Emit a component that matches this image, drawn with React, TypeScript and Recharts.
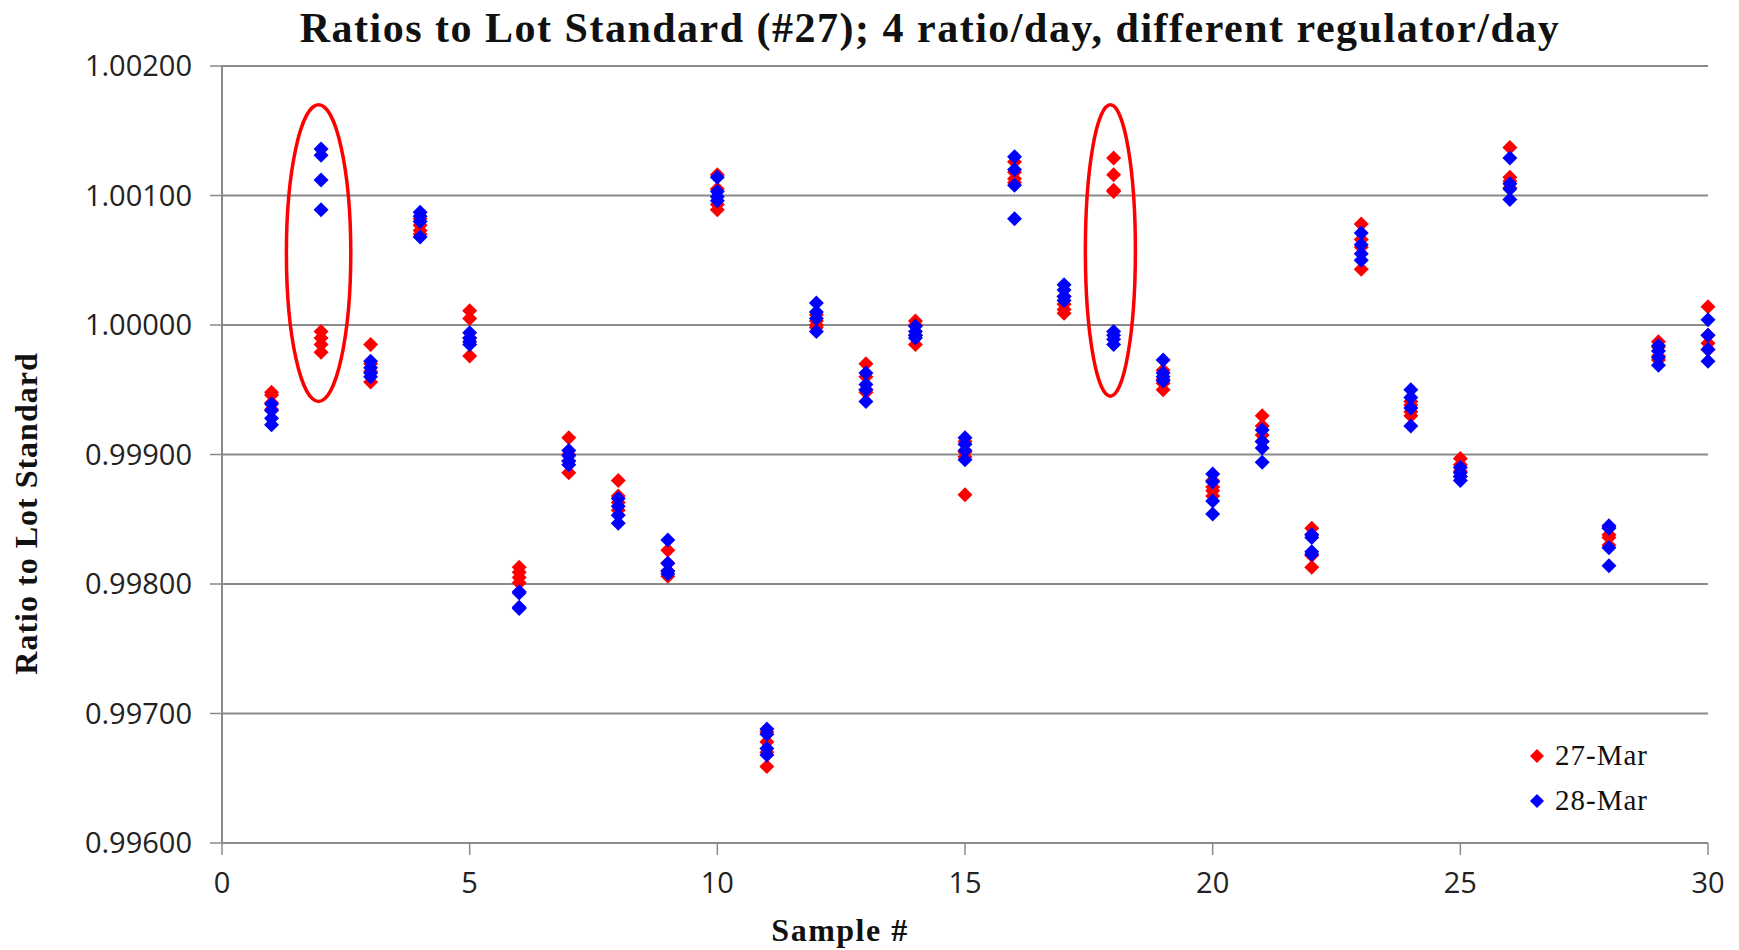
import React from 'react';
import {
  ScatterChart,
  Scatter,
  XAxis,
  YAxis,
  CartesianGrid,
  Legend,
  ReferenceArea,
} from 'recharts';

// sample numbers (no #27 in the run)
const sampleNo = [1, 2, 3, 4, 5, 6, 7, 8, 9, 10, 11, 12, 13, 14, 15, 16, 17, 18, 19, 20, 21, 22, 23, 24, 25, 26, 28, 29, 30];

// 4 ratios per sample
const mar27 = [
  [0.99948, 0.99946, 0.9994, 0.99935],
  [0.99995, 0.9999, 0.99985, 0.99979],
  [0.99985, 0.9997, 0.99964, 0.99956],
  [1.00082, 1.00077, 1.00073, 1.0007],
  [1.00011, 1.00005, 0.9999, 0.99976],
  [0.99813, 0.99809, 0.99805, 0.99801],
  [0.99913, 0.999, 0.99895, 0.99886],
  [0.9988, 0.99868, 0.99863, 0.99857],
  [0.99826, 0.99816, 0.9981, 0.99806],
  [1.00116, 1.00105, 1.00093, 1.00089],
  [0.99686, 0.99678, 0.9967, 0.99659],
  [1.00008, 1.00003, 1.0, 0.99998],
  [0.9997, 0.9996, 0.9995, 0.99948],
  [1.00003, 1.0, 0.99992, 0.99985],
  [0.9991, 0.99902, 0.99898, 0.99869],
  [1.00126, 1.00118, 1.00113, 1.0011],
  [1.00022, 1.00016, 1.00012, 1.00009],
  [1.00129, 1.00116, 1.00103, 1.00104],
  [0.99965, 0.99958, 0.99955, 0.9995],
  [0.9988, 0.99875, 0.99872, 0.99868],
  [0.9993, 0.99922, 0.99915, 0.9991],
  [0.99843, 0.99838, 0.99822, 0.99813],
  [1.00078, 1.00066, 1.0006, 1.00043],
  [0.99941, 0.99938, 0.99933, 0.9993],
  [0.99897, 0.99892, 0.99887, 0.99883],
  [1.00137, 1.00114, 1.00111, 1.00106],
  [0.99844, 0.99838, 0.99836, 0.9983],
  [0.99987, 0.99983, 0.99976, 0.99973],
  [1.00014, 0.99992, 0.99986, 0.99981],
];

const mar28 = [
  [0.99939, 0.99934, 0.99928, 0.99923],
  [1.00136, 1.00131, 1.00112, 1.00089],
  [0.99972, 0.99967, 0.99963, 0.9996],
  [1.00087, 1.00084, 1.0008, 1.00068],
  [0.99994, 0.9999, 0.99987, 0.99985],
  [0.99794, 0.99793, 0.99782, 0.99781],
  [0.99903, 0.99899, 0.99895, 0.99892],
  [0.99866, 0.9986, 0.99853, 0.99847],
  [0.99834, 0.99816, 0.9981, 0.99808],
  [1.00114, 1.00103, 1.00099, 1.00096],
  [0.99688, 0.99684, 0.99673, 0.99668],
  [1.00017, 1.0001, 1.00005, 0.99995],
  [0.99963, 0.99954, 0.9995, 0.99941],
  [0.99999, 0.99995, 0.99992, 0.9999],
  [0.99913, 0.99908, 0.99903, 0.99896],
  [1.0013, 1.0012, 1.00108, 1.00082],
  [1.00031, 1.00027, 1.00022, 1.00019],
  [0.99995, 0.99992, 0.99989, 0.99985],
  [0.99973, 0.99963, 0.9996, 0.99957],
  [0.99885, 0.99879, 0.99864, 0.99854],
  [0.99919, 0.9991, 0.99905, 0.99894],
  [0.99838, 0.99836, 0.99825, 0.99823],
  [1.00071, 1.00062, 1.00055, 1.0005],
  [0.9995, 0.99944, 0.99936, 0.99922],
  [0.9989, 0.99886, 0.99883, 0.9988],
  [1.00129, 1.00109, 1.00105, 1.00097],
  [0.99845, 0.99843, 0.99828, 0.99814],
  [0.99984, 0.9998, 0.99975, 0.99969],
  [1.00004, 0.99992, 0.99981, 0.99972],
];

const xTicks = [0, 5, 10, 15, 20, 25, 30];
const yTicks = [0.996, 0.997, 0.998, 0.999, 1.0, 1.001, 1.002];

// the two circled days (data units)
const circled = [
  { x1: 1.3, x2: 2.6, y1: 0.99941, y2: 1.0017 },
  { x1: 17.43, x2: 18.44, y1: 0.99945, y2: 1.0017 },
];

const toPoints = (rows: number[][]) =>
  rows.flatMap((vals, i) => vals.map((v) => ({ x: sampleNo[i], y: v })));

const serif = '"Liberation Serif", "DejaVu Serif", serif';
const sans = '"Open Sans", "Liberation Sans", sans-serif';
const gridColor = '#8a8a8a';

const Diamond = (props: any) => {
  const { cx, cy, fill } = props;
  if (cx == null || cy == null) return null;
  const h = 7.5;
  return (
    <polygon
      points={`${cx},${cy - h} ${cx + h},${cy} ${cx},${cy + h} ${cx - h},${cy}`}
      fill={fill}
    />
  );
};

const Ellipse = (props: any) => {
  const { x, y, width, height } = props;
  return (
    <ellipse
      cx={x + width / 2}
      cy={y + height / 2}
      rx={Math.abs(width) / 2}
      ry={Math.abs(height) / 2}
      fill="none"
      stroke="#ff0000"
      strokeWidth={3.5}
    />
  );
};

const YLabel = (props: any) => {
  const vb = props.viewBox || {};
  const cx = 26;
  const cy = (vb.y ?? 66) + (vb.height ?? 777) / 2 + 59;
  return (
    <text
      x={cx}
      y={cy}
      transform={`rotate(-90, ${cx}, ${cy})`}
      textAnchor="middle"
      dominantBaseline="central"
      fontFamily={serif}
      fontWeight="bold"
      fontSize={32}
      letterSpacing={1}
      fill="#111"
    >
      Ratio to Lot Standard
    </text>
  );
};

const XLabel = () => (
  <text
    x={840}
    y={930}
    textAnchor="middle"
    dominantBaseline="central"
    fontFamily={serif}
    fontWeight="bold"
    fontSize={32}
    letterSpacing={1.5}
    fill="#111"
  >
    Sample #
  </text>
);

const LegendBox = (props: any) => {
  const items = props.payload || [];
  return (
    <div style={{ fontFamily: serif, fontSize: 29, letterSpacing: 1, color: '#111', textAlign: 'left' }}>
      {items.map((it: any) => (
        <div key={it.value} style={{ display: 'flex', alignItems: 'center', height: 45 }}>
          <svg width={16} height={16} style={{ marginRight: 10 }}>
            <polygon points="8,1 15,8 8,15 1,8" fill={it.color} />
          </svg>
          <span>{it.value}</span>
        </div>
      ))}
    </div>
  );
};

export default function App() {
  return (
    <div style={{ position: 'absolute', left: 0, top: 0, width: 1739, height: 950, background: '#fff' }}>
      <div
        style={{
          position: 'absolute',
          left: 130,
          top: 4,
          width: 1600,
          textAlign: 'center',
          fontFamily: serif,
          fontWeight: 'bold',
          fontSize: 42,
          letterSpacing: 1.5,
          color: '#111',
          lineHeight: '48px',
        }}
      >
        Ratios to Lot Standard (#27); 4 ratio/day, different regulator/day
      </div>
      <ScatterChart width={1739} height={950} margin={{ top: 66, right: 31, bottom: 0, left: 0 }}>
        <CartesianGrid horizontal vertical={false} stroke={gridColor} strokeWidth={2} />
        <XAxis
          type="number"
          dataKey="x"
          domain={[0, 30]}
          ticks={xTicks}
          height={107}
          tickSize={12}
          tickMargin={17}
          axisLine={{ stroke: gridColor, strokeWidth: 2 }}
          tickLine={{ stroke: gridColor, strokeWidth: 1.5 }}
          tick={{ fontFamily: sans, fontSize: 29, fill: '#222' }}
          label={<XLabel />}
        />
        <YAxis
          type="number"
          dataKey="y"
          domain={[0.996, 1.002]}
          ticks={yTicks}
          width={222}
          tickSize={12}
          tickMargin={18}
          allowDataOverflow
          tickFormatter={(v: number) => v.toFixed(5)}
          axisLine={{ stroke: gridColor, strokeWidth: 2 }}
          tickLine={{ stroke: gridColor, strokeWidth: 1.5 }}
          tick={{ fontFamily: sans, fontSize: 29, fill: '#222' }}
          label={<YLabel />}
        />
        {circled.map((c, i) => (
          <ReferenceArea
            key={i}
            x1={c.x1}
            x2={c.x2}
            y1={c.y1}
            y2={c.y2}
            ifOverflow="visible"
            shape={<Ellipse />}
          />
        ))}
        <Legend
          layout="vertical"
          align="center"
          verticalAlign="middle"
          content={<LegendBox />}
          wrapperStyle={{ position: 'absolute', left: 1529, top: 733, width: 170 }}
        />
        <Scatter
          name="27-Mar"
          data={toPoints(mar27)}
          fill="#ff0000"
          shape={<Diamond />}
          isAnimationActive={false}
        />
        <Scatter
          name="28-Mar"
          data={toPoints(mar28)}
          fill="#0000ff"
          shape={<Diamond />}
          isAnimationActive={false}
        />
      </ScatterChart>
    </div>
  );
}
